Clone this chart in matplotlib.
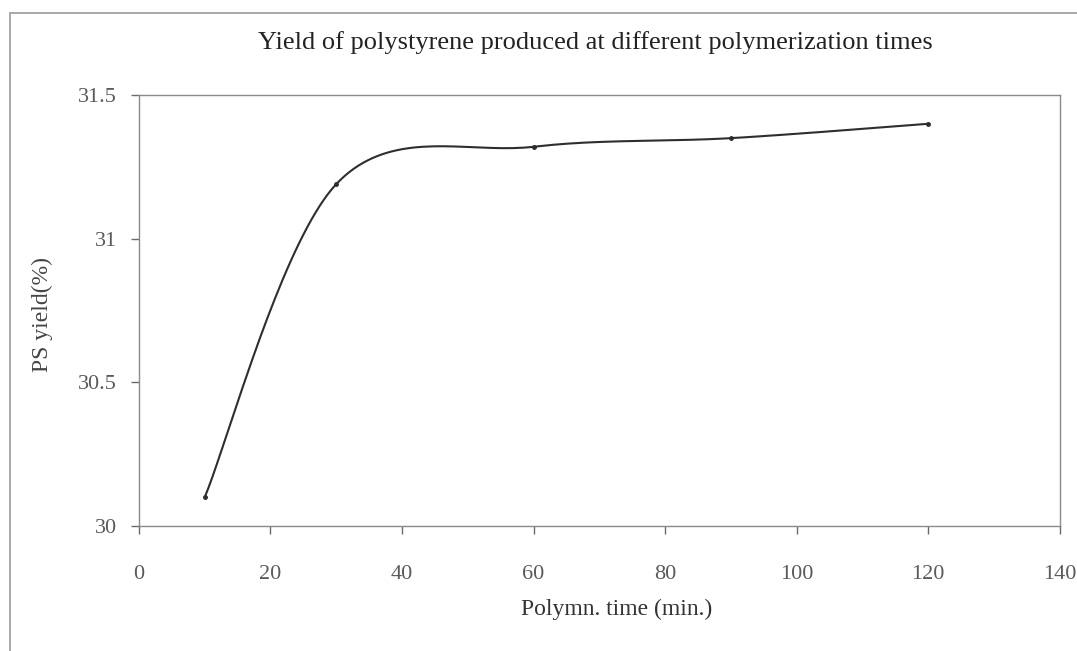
import numpy as np
import matplotlib
matplotlib.use("Agg")
import matplotlib.pyplot as plt
from matplotlib.patches import Rectangle

# Data
time_min = [10, 30, 60, 90, 120]
ps_yield = [30.10, 31.19, 31.32, 31.35, 31.40]
x_ticks = [0, 20, 40, 60, 80, 100, 120, 140]
y_ticks = [30, 30.5, 31, 31.5]
y_tick_labels = ["30", "30.5", "31", "31.5"]


def excel_smooth(xs, ys, n=40):
    # spreadsheet-style smoothed line: cubic Bezier with 1/6 tangents
    p = np.column_stack([xs, ys]).astype(float)
    pts = np.vstack([p[0], p, p[-1]])
    out = []
    t = np.linspace(0, 1, n)[:, None]
    for i in range(1, len(pts) - 2):
        p0, p3 = pts[i], pts[i + 1]
        c1 = p0 + (pts[i + 1] - pts[i - 1]) / 6
        c2 = p3 - (pts[i + 2] - pts[i]) / 6
        seg = ((1 - t) ** 3) * p0 + 3 * ((1 - t) ** 2) * t * c1 + 3 * (1 - t) * t ** 2 * c2 + t ** 3 * p3
        out.append(seg if i == 1 else seg[1:])
    curve = np.vstack(out)
    return curve[:, 0], curve[:, 1]


plt.rcParams['font.family'] = ['Liberation Serif', 'DejaVu Serif']

fig = plt.figure(figsize=(10.77, 6.51), dpi=100)
# plot area: x 139..1060 px, y 95..526 px
ax = fig.add_axes([0.129, 0.192, 0.855, 0.662])

sx, sy = excel_smooth(time_min, ps_yield)
ax.plot(sx, sy, color='#2e2e2e', linewidth=1.5)
ax.plot(time_min, ps_yield, linestyle='none', marker='o', markersize=2.5, color='#2e2e2e')

ax.set_xlim(0, 140)
ax.set_ylim(30, 31.5)
ax.set_xticks(x_ticks)
ax.set_yticks(y_ticks)
ax.set_yticklabels(y_tick_labels)

for s in ax.spines.values():
    s.set_color('#8a8a8a')
    s.set_linewidth(1.0)
ax.tick_params(direction='out', length=6, width=1, color='#6a6a6a',
               labelsize=16, labelcolor='#5a5a5a')
ax.tick_params(axis='x', pad=22)
ax.tick_params(axis='y', pad=10)

ax.set_xlabel("Polymn. time (min.)", fontsize=17, color='#333333')
ax.xaxis.set_label_coords(0.519, -0.17)
ax.set_ylabel("PS yield(%)", fontsize=17, color='#444444')
ax.yaxis.set_label_coords(-0.093, 0.49)
fig.text(0.553, 0.934, "Yield of polystyrene produced at different polymerization times",
         fontsize=19, color='#222222', ha='center', va='center')

# chart area border (scanned frame)
fig.add_artist(Rectangle((0.009, -0.05), 1.2, 1.03, transform=fig.transFigure,
                         fill=False, edgecolor='#9a9a9a', linewidth=1.2))

fig.savefig("out.png", dpi=100)
